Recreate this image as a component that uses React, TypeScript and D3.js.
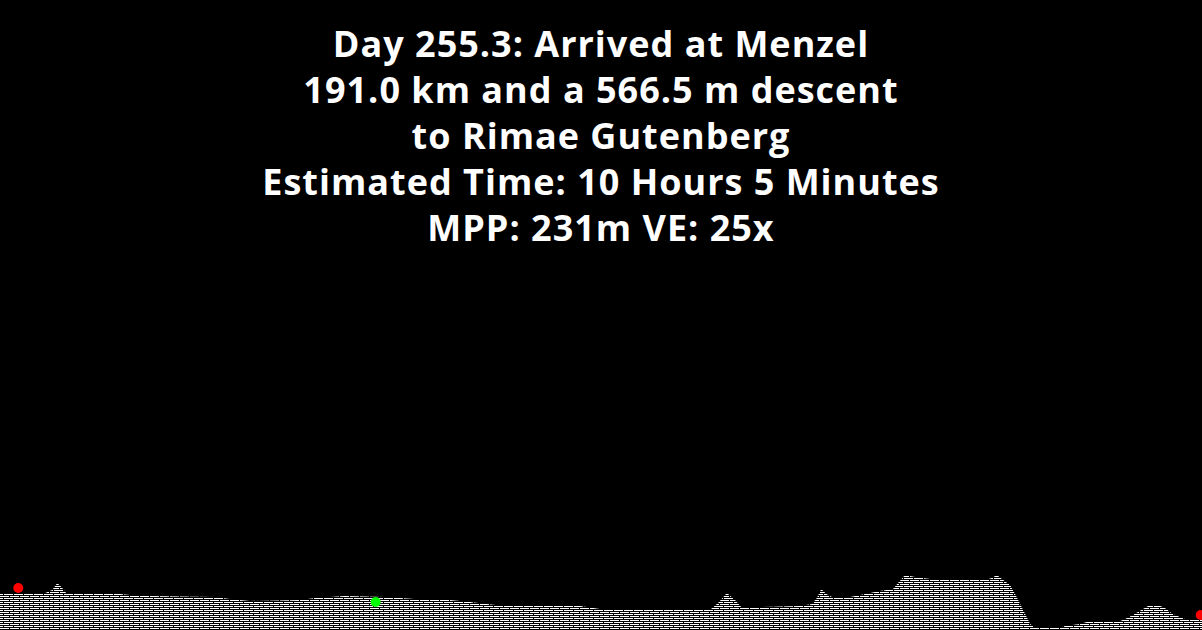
import React, { useEffect, useRef } from 'react';
import * as d3 from 'd3';

const WIDTH = 1202;
const HEIGHT = 630;

// title lines
const titleLines = [
  'Day 255.3: Arrived at Menzel',
  '191.0 km and a 566.5 m descent',
  'to Rimae Gutenberg',
  'Estimated Time: 10 Hours 5 Minutes',
  'MPP: 231m VE: 25x',
];

// profile: distance along route (km) and elevation (m)
const distanceKm = [
  0, 2.9, 7.2, 8.3, 9.1, 9.9, 10.5, 17.5, 20.7, 23.8, 34.2, 36.5, 39.7, 47.7,
  50.1, 54.8, 61.2, 65.9, 71.5, 74.7, 78.7, 92.2, 95.3, 112.8, 114.1, 115.5,
  116.8, 117.9, 120.8, 127.1, 129.0, 129.8, 130.5, 131.3, 132.2, 135.1, 137.5,
  139.8, 141.9, 142.7, 143.8, 145.4, 147.8, 156.5, 157.6, 158.4, 159.4, 160.5,
  161.3, 162.1, 162.9, 163.7, 164.5, 168.4, 169.2, 171.6, 173.2, 178.0, 178.8,
  180.3, 181.9, 182.7, 184.0, 185.1, 185.9, 186.7, 188.3, 191.0,
];
const elevationM = [
  -1647, -1647, -1647, -1570, -1390, -1518, -1647, -1647, -1699, -1725, -1750,
  -1802, -1853, -1828, -1776, -1725, -1750, -1802, -1828, -1879, -1956, -1982,
  -2059, -2085, -1905, -1647, -1828, -2034, -2008, -1982, -1931, -1776, -1544,
  -1673, -1750, -1750, -1673, -1596, -1544, -1390, -1184, -1235, -1287, -1313,
  -1261, -1184, -1313, -1441, -1673, -1931, -2188, -2446, -2549, -2549, -2497,
  -2446, -2368, -2368, -2317, -2188, -2034, -1956, -1956, -2034, -2137, -2214,
  -2317, -2342,
];

// markers: start, current position, end
const markerKm = [2.9, 59.7, 190.8];
const markerElev = [-1518, -1879, -2214];
const markerColor = ['#ff0000', '#00ff00', '#ff0000'];

const App = () => {
  const ref = useRef<SVGSVGElement>(null);

  useEffect(() => {
    const svg = d3.select(ref.current);
    svg.selectAll('*').remove();

    const x = d3.scaleLinear().domain([0, 191]).range([0, WIDTH]);
    const y = d3.scaleLinear().domain([-2600, -1184]).range([HEIGHT, 575]);

    const defs = svg.append('defs');
    const pat = defs.append('pattern')
      .attr('id', 'hatch')
      .attr('patternUnits', 'userSpaceOnUse')
      .attr('width', 10)
      .attr('height', 4);
    pat.append('rect').attr('x', 0).attr('y', 0).attr('width', 9).attr('height', 1).attr('fill', '#fff');
    pat.append('rect').attr('x', 0).attr('y', 2).attr('width', 3).attr('height', 1).attr('fill', '#fff');
    pat.append('rect').attr('x', 4).attr('y', 2).attr('width', 6).attr('height', 1).attr('fill', '#fff');

    svg.append('rect').attr('width', WIDTH).attr('height', HEIGHT).attr('fill', '#000');

    const pts = distanceKm.map((d, i) => [d, elevationM[i]] as [number, number]);
    const area = d3.area<[number, number]>()
      .x(d => x(d[0]))
      .y0(HEIGHT)
      .y1(d => y(d[1]));
    svg.append('path')
      .datum(pts)
      .attr('d', area)
      .attr('fill', 'url(#hatch)');

    svg.selectAll('circle.marker')
      .data(markerKm)
      .enter()
      .append('circle')
      .attr('class', 'marker')
      .attr('cx', d => x(d))
      .attr('cy', (d, i) => y(markerElev[i]))
      .attr('r', 5)
      .attr('fill', (d, i) => markerColor[i]);

    svg.append('g')
      .selectAll('text')
      .data(titleLines)
      .enter()
      .append('text')
      .attr('x', WIDTH / 2)
      .attr('y', (d, i) => 57 + i * 46)
      .attr('text-anchor', 'middle')
      .attr('fill', '#fff')
      .attr('font-family', '"Open Sans", sans-serif')
      .attr('font-weight', 700)
      .attr('font-size', '36px')
      .attr('letter-spacing', '1px')
      .text(d => d);
  }, []);

  return (
    <svg ref={ref} width={WIDTH} height={HEIGHT}
      style={{ position: 'absolute', left: 0, top: 0, display: 'block' }} />
  );
};

export default App;
